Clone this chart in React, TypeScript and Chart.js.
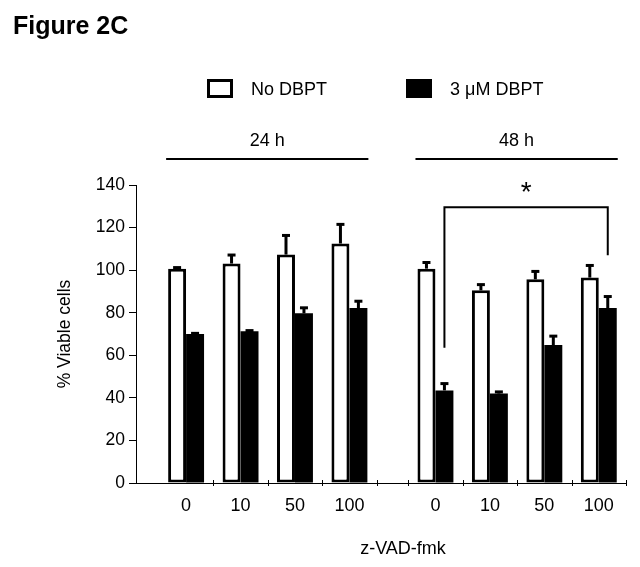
import React, { useEffect, useRef } from 'react';
import { Chart, registerables, CategoryScale } from 'chart.js';

// ---------- data ----------
const figureTitle = 'Figure 2C';
const doseLabels = ['0', '10', '50', '100'];
const timeLabels = ['24 h', '48 h'];
const categories = [...doseLabels, ...doseLabels];
const seriesNames = ['No DBPT', '3 \u03BCM DBPT'];
const noDbptMeans = [100.7, 103.1, 107.3, 112.5, 100.7, 90.5, 95.7, 96.5];
const noDbptErrors = [0.5, 4.0, 9.0, 9.0, 2.9, 2.7, 3.7, 5.7];
const dbptMeans = [70.0, 71.3, 79.7, 82.2, 43.5, 42.0, 64.8, 82.2];
const dbptErrors = [0.3, 0.3, 2.6, 3.2, 3.2, 0.8, 4.2, 5.4];
const yMin = 0;
const yMax = 140;
const yStep = 20;
const xAxisTitle = 'z-VAD-fmk';
const yAxisTitle = '% Viable cells';
// significance bracket: category indices joined, series, bracket level, leg end values
const sigPair = [4, 7];
const sigSeries = 1;
const sigLevel = 129.5;
const sigLegEnds = [63.5, 107];
const sigLabel = '*';

// ---------- layout constants ----------
const FONT = '"Liberation Sans", Arial, Helvetica, sans-serif';
const LEAD_SLOTS = 0.42;
const GAP_SLOTS = 0.58;
const GROUP_SIZE = doseLabels.length;

class GappedCategoryScale extends (CategoryScale as any) {
  static id = 'gappedCategory';
  static defaults = {};
  getPixelForValue(value: any) {
    let v = value;
    if (typeof v !== 'number') v = this.parse(v);
    if (v === null || v === undefined || Number.isNaN(v)) return NaN;
    const n = this.getLabels().length;
    const total = LEAD_SLOTS + n + GAP_SLOTS;
    const pos = LEAD_SLOTS + v + 0.5 + (v >= GROUP_SIZE ? GAP_SLOTS : 0);
    return this.getPixelForDecimal(pos / total);
  }
}

Chart.register(...registerables, GappedCategoryScale as any);

const errorLists = [noDbptErrors, dbptErrors];

const annotationPlugin = {
  id: 'figureAnnotations',
  afterDatasetsDraw(chart: any) {
    const ctx = chart.ctx;
    const y = chart.scales.y;
    ctx.save();
    ctx.strokeStyle = '#000';
    ctx.lineCap = 'butt';
    chart.data.datasets.forEach((ds: any, di: number) => {
      const meta = chart.getDatasetMeta(di);
      const errs = errorLists[di];
      meta.data.forEach((el: any, i: number) => {
        const top = y.getPixelForValue(ds.data[i] + errs[i]);
        ctx.lineWidth = 3;
        ctx.beginPath();
        ctx.moveTo(el.x, el.y);
        ctx.lineTo(el.x, top);
        ctx.stroke();
        ctx.beginPath();
        ctx.moveTo(el.x - 4, top);
        ctx.lineTo(el.x + 4, top);
        ctx.stroke();
      });
    });
    ctx.restore();
  },
  afterDraw(chart: any) {
    const ctx = chart.ctx;
    const x = chart.scales.x;
    const y = chart.scales.y;
    const area = chart.chartArea;
    ctx.save();
    ctx.fillStyle = '#000';
    ctx.strokeStyle = '#000';

    // Figure title
    ctx.font = `bold 25px ${FONT}`;
    ctx.textAlign = 'left';
    ctx.textBaseline = 'alphabetic';
    ctx.fillText(figureTitle, 13, 34);

    // Legend
    const boxX = [207, 406];
    const textX = [251, 450];
    chart.data.datasets.forEach((ds: any, di: number) => {
      const bx = boxX[di];
      const by = 79;
      const bw = 26;
      const bh = 19;
      ctx.fillStyle = ds.backgroundColor;
      ctx.fillRect(bx, by, bw, bh);
      if (ds.borderWidth) {
        ctx.lineWidth = 3;
        ctx.strokeStyle = ds.borderColor;
        ctx.strokeRect(bx + 1.5, by + 1.5, bw - 3, bh - 3);
      }
      ctx.fillStyle = '#000';
      ctx.font = `18px ${FONT}`;
      ctx.textAlign = 'left';
      ctx.fillText(ds.label, textX[di], 94.5);
    });

    // Time-point group labels with lines
    const m0 = chart.getDatasetMeta(0);
    const m1 = chart.getDatasetMeta(1);
    timeLabels.forEach((lab, g) => {
      const first = m0.data[g * GROUP_SIZE];
      const last = m1.data[g * GROUP_SIZE + GROUP_SIZE - 1];
      const left = first.x - first.width / 2 - 2;
      const right = last.x + last.width / 2 + 1;
      ctx.lineWidth = 2;
      ctx.beginPath();
      ctx.moveTo(left, 159);
      ctx.lineTo(right, 159);
      ctx.stroke();
      ctx.font = `18px ${FONT}`;
      ctx.textAlign = 'center';
      ctx.fillText(lab, (left + right) / 2, 146);
    });

    // X-axis tick marks at category boundaries
    const slot = x.getPixelForValue(1) - x.getPixelForValue(0);
    const tickXs: number[] = [];
    categories.forEach((_, i) => {
      tickXs.push(x.getPixelForValue(i) + slot / 2);
    });
    tickXs.push(x.getPixelForValue(GROUP_SIZE) - slot / 2);
    ctx.lineWidth = 1;
    tickXs.forEach((tx) => {
      const px = Math.round(tx) + 0.5;
      ctx.beginPath();
      ctx.moveTo(px, area.bottom - 3);
      ctx.lineTo(px, area.bottom + 3);
      ctx.stroke();
    });

    // Significance bracket
    const ms = chart.getDatasetMeta(sigSeries);
    const x1 = ms.data[sigPair[0]].x;
    const x2 = ms.data[sigPair[1]].x;
    const yb = y.getPixelForValue(sigLevel);
    ctx.lineWidth = 2;
    ctx.beginPath();
    ctx.moveTo(x1, y.getPixelForValue(sigLegEnds[0]));
    ctx.lineTo(x1, yb);
    ctx.lineTo(x2, yb);
    ctx.lineTo(x2, y.getPixelForValue(sigLegEnds[1]));
    ctx.stroke();
    ctx.font = `28px ${FONT}`;
    ctx.textAlign = 'center';
    ctx.textBaseline = 'alphabetic';
    ctx.fillText(sigLabel, (x1 + x2) / 2, yb - 6);

    // Axis titles
    ctx.font = `18px ${FONT}`;
    ctx.textAlign = 'center';
    ctx.fillText(xAxisTitle, 403, 554);

    ctx.save();
    ctx.translate(65, (area.top + area.bottom) / 2);
    ctx.rotate(-Math.PI / 2);
    ctx.font = `17.5px ${FONT}`;
    ctx.textAlign = 'center';
    ctx.textBaseline = 'middle';
    ctx.fillText(yAxisTitle, 0, 0);
    ctx.restore();

    ctx.restore();
  },
};

export default function App() {
  const canvasRef = useRef<HTMLCanvasElement | null>(null);

  useEffect(() => {
    if (!canvasRef.current) return;
    const chart = new Chart(canvasRef.current, {
      type: 'bar',
      data: {
        labels: categories,
        datasets: [
          {
            label: seriesNames[0],
            data: noDbptMeans,
            backgroundColor: '#ffffff',
            borderColor: '#000000',
            borderWidth: 3,
            borderSkipped: false,
          },
          {
            label: seriesNames[1],
            data: dbptMeans,
            backgroundColor: '#000000',
            borderColor: '#000000',
            borderWidth: 0,
          },
        ],
      },
      options: {
        responsive: false,
        animation: false,
        events: [],
        categoryPercentage: 0.66,
        barPercentage: 1.0,
        layout: { padding: { top: 185, left: 0, right: 14, bottom: 0 } },
        plugins: {
          legend: { display: false },
          tooltip: { enabled: false },
          title: { display: false },
        },
        scales: {
          x: {
            type: 'gappedCategory' as any,
            grid: { display: false, drawTicks: false },
            border: { display: true, color: '#000', width: 1 },
            ticks: {
              color: '#000',
              font: { family: FONT, size: 18 },
              padding: 12,
              autoSkip: false,
              maxRotation: 0,
              callback: (v: any) => categories[v],
            },
            afterFit: (scale: any) => {
              scale.height = 84;
            },
          },
          y: {
            min: yMin,
            max: yMax,
            ticks: {
              stepSize: yStep,
              color: '#000',
              font: { family: FONT, size: 17.5 },
              padding: 4,
            },
            grid: {
              display: true,
              drawOnChartArea: false,
              drawTicks: true,
              tickLength: 7,
              color: '#000',
              lineWidth: 1,
            },
            border: { display: true, color: '#000', width: 1 },
            afterFit: (scale: any) => {
              scale.width = 136;
            },
          },
        },
      } as any,
      plugins: [annotationPlugin],
    });
    return () => chart.destroy();
  }, []);

  return (
    <div style={{ position: 'absolute', left: 0, top: 0, width: 640, height: 567, background: '#fff' }}>
      <canvas ref={canvasRef} width={640} height={567} />
    </div>
  );
}
